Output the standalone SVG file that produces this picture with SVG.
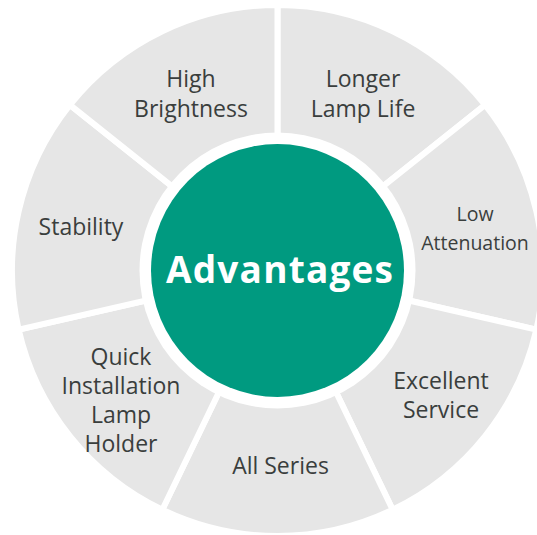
<svg xmlns="http://www.w3.org/2000/svg" width="537" height="535" viewBox="0 0 537 535">
  <style>
    .seg { fill: #e6e6e6; stroke: #ffffff; stroke-width: 6; stroke-linejoin: miter; }
    .lbl { font-family: "Open Sans", "Noto Sans", "Liberation Sans", sans-serif; font-size: 23px; fill: #3a3e3d; text-anchor: middle; }
    .sm { font-size: 19.5px; }
    .hub-text { font-family: "Open Sans", "Noto Sans", "Liberation Sans", sans-serif; font-size: 37px; font-weight: 700; fill: #ffffff; text-anchor: middle; }
  </style>
  <rect width="537" height="535" fill="#ffffff"/>
  <g id="segment-longer-lamp-life">
    <path class="seg" d="M277.5,270.5 L277.5,5 A265.5,265.5 0 0 1 485.08,104.96 Z"/>
    <text class="lbl" x="363" y="87">Longer</text>
    <text class="lbl" x="363" y="117">Lamp Life</text>
  </g>
  <g id="segment-low-attenuation">
    <path class="seg" d="M277.5,270.5 L485.08,104.96 A265.5,265.5 0 0 1 536.34,329.58 Z"/>
    <text class="lbl sm" x="475" y="221">Low</text>
    <text class="lbl sm" x="475" y="250">Attenuation</text>
  </g>
  <g id="segment-excellent-service">
    <path class="seg" d="M277.5,270.5 L536.34,329.58 A265.5,265.5 0 0 1 392.69,509.71 Z"/>
    <text class="lbl" x="441" y="389">Excellent</text>
    <text class="lbl" x="441" y="418">Service</text>
  </g>
  <g id="segment-all-series">
    <path class="seg" d="M277.5,270.5 L392.69,509.71 A265.5,265.5 0 0 1 162.31,509.71 Z"/>
    <text class="lbl" x="280.5" y="474">All Series</text>
  </g>
  <g id="segment-quick-installation">
    <path class="seg" d="M277.5,270.5 L162.31,509.71 A265.5,265.5 0 0 1 18.66,329.58 Z"/>
    <text class="lbl" x="121" y="365">Quick</text>
    <text class="lbl" x="121" y="394">Installation</text>
    <text class="lbl" x="121" y="423">Lamp</text>
    <text class="lbl" x="121" y="452">Holder</text>
  </g>
  <g id="segment-stability">
    <path class="seg" d="M277.5,270.5 L18.66,329.58 A265.5,265.5 0 0 1 69.92,104.96 Z"/>
    <text class="lbl" x="81" y="235">Stability</text>
  </g>
  <g id="segment-high-brightness">
    <path class="seg" d="M277.5,270.5 L69.92,104.96 A265.5,265.5 0 0 1 277.5,5 Z"/>
    <text class="lbl" x="191" y="87">High</text>
    <text class="lbl" x="191" y="117">Brightness</text>
  </g>
  <g id="connectors"></g>
  <g id="hub-advantages">
    <circle cx="277.5" cy="270.5" r="138" fill="#ffffff"/>
    <circle cx="277.5" cy="270.5" r="126.5" fill="#009a80"/>
    <text class="hub-text" x="279.5" y="283" textLength="227" lengthAdjust="spacing">Advantages</text>
  </g>
</svg>
